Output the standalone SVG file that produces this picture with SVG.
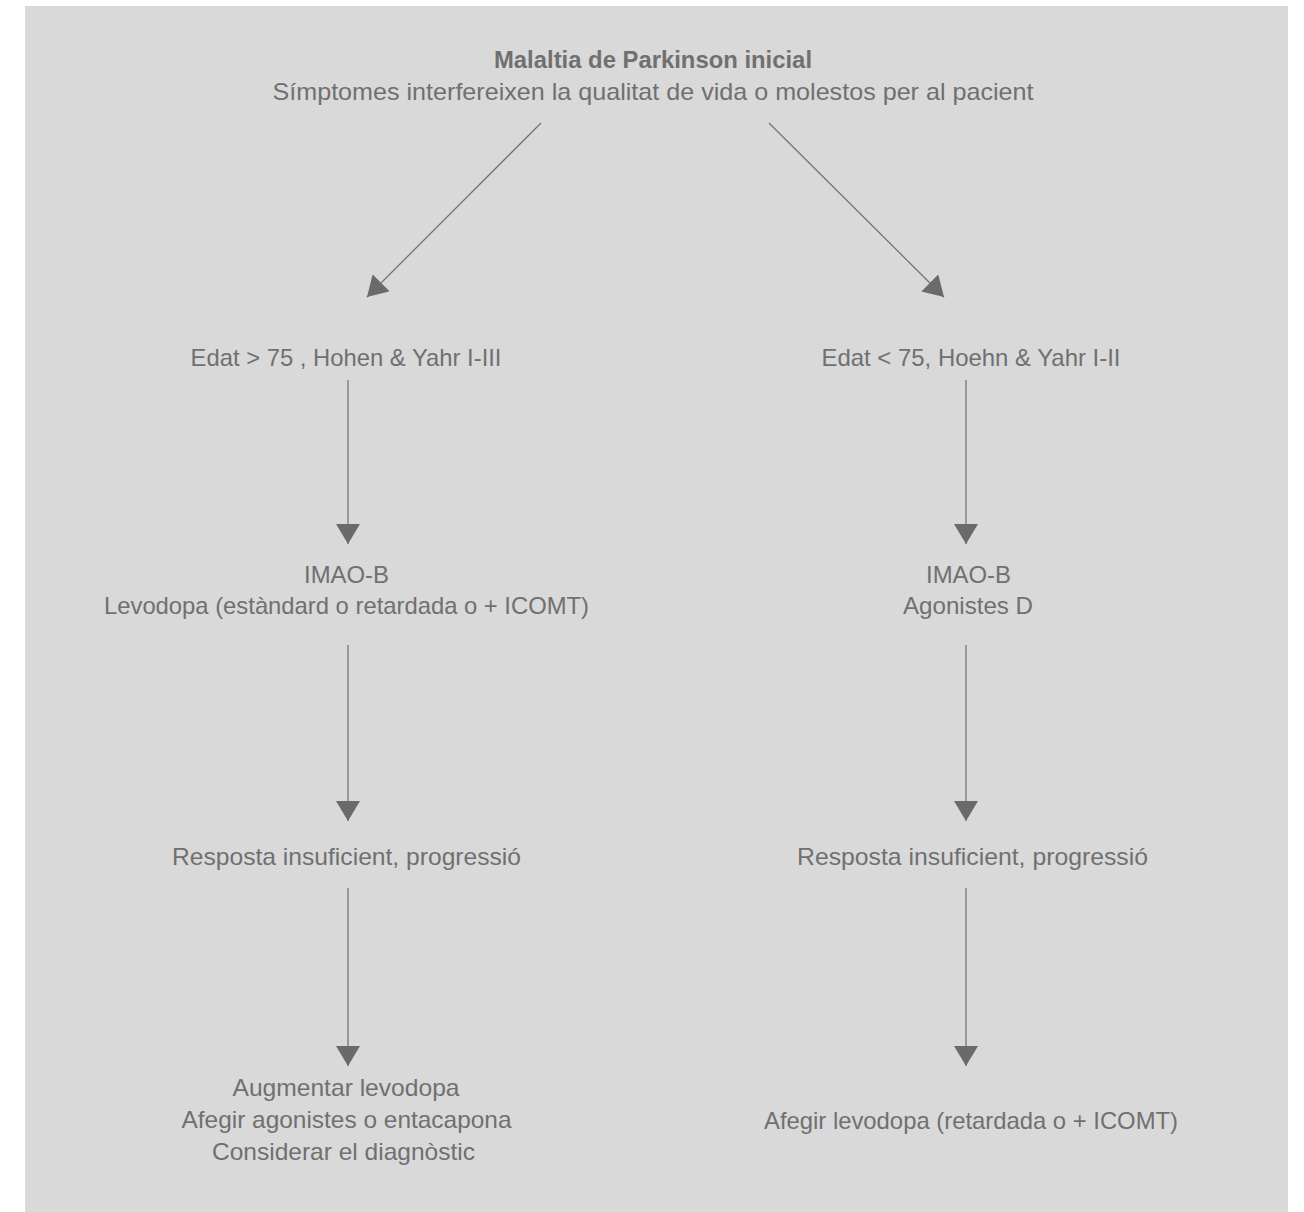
<svg xmlns="http://www.w3.org/2000/svg" width="1304" height="1212" viewBox="0 0 1304 1212">
<style>
text{font-family:"Liberation Sans","DejaVu Sans",sans-serif;font-size:24px;fill:#707070;text-anchor:middle}
.b{font-weight:bold}
.c{stroke:#757575;stroke-width:1.3;fill:none;marker-end:url(#ah)}
</style>
<defs>
<marker id="ah" markerUnits="userSpaceOnUse" markerWidth="20" markerHeight="24" refX="20" refY="12" orient="auto" viewBox="0 0 20 24">
<path d="M0,0 L20,12 L0,24 z" fill="#6a6a6a"/>
</marker>
</defs>
<rect x="25" y="6" width="1263" height="1206" fill="#d9d9d9"/>
<g id="connectors">
<line class="c" x1="541" y1="123" x2="367" y2="297"/>
<line class="c" x1="769" y1="123" x2="944" y2="297"/>
<line class="c" x1="348" y1="380" x2="348" y2="544"/>
<line class="c" x1="348" y1="645" x2="348" y2="821"/>
<line class="c" x1="348" y1="888" x2="348" y2="1066"/>
<line class="c" x1="966" y1="380" x2="966" y2="544"/>
<line class="c" x1="966" y1="645" x2="966" y2="821"/>
<line class="c" x1="966" y1="888" x2="966" y2="1066"/>
</g>
<g id="n-top">
<text class="b" x="653" y="68" textLength="318" lengthAdjust="spacingAndGlyphs">Malaltia de Parkinson inicial</text>
<text x="653" y="100" textLength="761" lengthAdjust="spacingAndGlyphs">Símptomes interfereixen la qualitat de vida o molestos per al pacient</text>
</g>
<g id="n-left1">
<text x="346" y="366" textLength="311" lengthAdjust="spacingAndGlyphs">Edat &gt; 75 , Hohen &amp; Yahr I-III</text>
</g>
<g id="n-right1">
<text x="971" y="366" textLength="299" lengthAdjust="spacingAndGlyphs">Edat &lt; 75, Hoehn &amp; Yahr I-II</text>
</g>
<g id="n-left2">
<text x="346.5" y="583" textLength="85" lengthAdjust="spacingAndGlyphs">IMAO-B</text>
<text x="346.5" y="614" textLength="485" lengthAdjust="spacingAndGlyphs">Levodopa (estàndard o retardada o + ICOMT)</text>
</g>
<g id="n-right2">
<text x="968.5" y="583" textLength="85" lengthAdjust="spacingAndGlyphs">IMAO-B</text>
<text x="968" y="614" textLength="130" lengthAdjust="spacingAndGlyphs">Agonistes D</text>
</g>
<g id="n-left3">
<text x="346.5" y="865" textLength="349" lengthAdjust="spacingAndGlyphs">Resposta insuficient, progressió</text>
</g>
<g id="n-right3">
<text x="972.5" y="865" textLength="351" lengthAdjust="spacingAndGlyphs">Resposta insuficient, progressió</text>
</g>
<g id="n-left4">
<text x="346" y="1096" textLength="227" lengthAdjust="spacingAndGlyphs">Augmentar levodopa</text>
<text x="346.5" y="1128" textLength="330" lengthAdjust="spacingAndGlyphs">Afegir agonistes o entacapona</text>
<text x="343.5" y="1160" textLength="263" lengthAdjust="spacingAndGlyphs">Considerar el diagnòstic</text>
</g>
<g id="n-right4">
<text x="971" y="1129" textLength="414" lengthAdjust="spacingAndGlyphs">Afegir levodopa (retardada o + ICOMT)</text>
</g>
</svg>
